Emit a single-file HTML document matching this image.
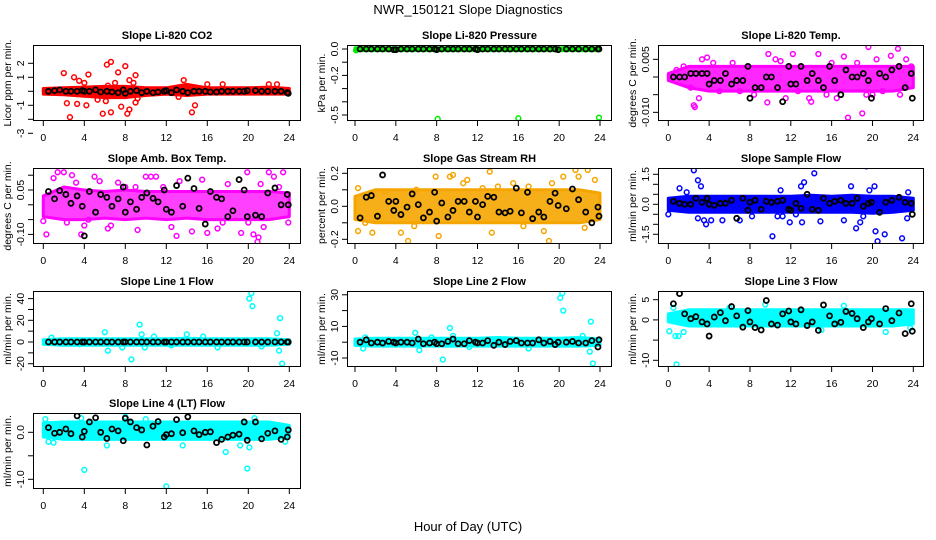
<!DOCTYPE html>
<html><head><meta charset="utf-8"><style>
html,body{margin:0;padding:0;background:#fff;}
svg{display:block;font-family:"Liberation Sans",Arial,sans-serif;}
</style></head><body>
<svg id="chart" width="936" height="540" viewBox="0 0 936 540" xmlns="http://www.w3.org/2000/svg">
<text x="468" y="14" text-anchor="middle" font-size="13">NWR_150121  Slope Diagnostics</text>
<text x="468" y="531" text-anchor="middle" font-size="13">Hour of Day (UTC)</text>
</svg>
<script>
// shared hours
const blackHours=[0.5,1.1,1.6,2.2,2.7,3.3,3.8,4.0,4.5,5.1,5.6,6.2,6.7,7.3,7.8,8.0,8.5,9.1,9.6,10.1,10.7,11.2,11.8,12.0,12.5,13.0,13.6,14.1,14.7,15.2,15.8,16.3,16.9,17.4,18.0,18.5,19.1,19.6,19.9,20.7,21.3,21.9,22.6,23.2,23.8,23.9];
const bandHours=[0,2,4,6,8,10,12,14,16,18,20,22,24];
const xTicks=[0,4,8,12,16,20,24];

// CO2
const co2Lo=[-0.2,-0.25,-0.35,-0.45,-0.45,-0.3,-0.2,-0.3,-0.2,-0.2,-0.2,-0.2,-0.2];
const co2Hi=[0.2,0.25,0.3,0.35,0.35,0.25,0.25,0.5,0.25,0.25,0.25,0.3,0.2];
const co2Out=[[2,1.3],[3,1],[3.5,0.75],[4.4,1.2],[4,0.6],[2.3,-0.85],[2.6,-1.85],[3.1,-3],[3.3,-0.9],[4.2,-1],[6.2,1.9],[6.6,2.1],[7.3,1.35],[8,1.8],[9,1.15],[8.4,0.8],[8.8,0.6],[5.8,-1.6],[6.6,-1.5],[7.6,-1.1],[8.2,-1.6],[8.4,-1.3],[9,-0.8],[9.2,-0.5],[6.3,0.4],[7,0.6],[14.5,-1.5],[14.8,-1],[13.7,0.8],[13.2,-0.4],[16,0.5],[17.5,0.5],[22,0.5],[22.8,0.5],[5.3,-0.6],[6.1,-0.7]];
const co2Black=[0,0.05,0.1,0,0,0,0.05,0,0,0.1,-0.05,0,-0.05,-0.1,0.1,-0.15,0,0.05,-0.1,0,-0.1,-0.05,0,0.05,-0.1,0.1,0,-0.1,0,0,0,-0.05,-0.05,0,0,0,0,0,0.05,0.05,0,0,0,0,-0.1,-0.15];
// Pressure
const prLo=[-0.012,-0.012,-0.012,-0.012,-0.012,-0.012,-0.012,-0.012,-0.012,-0.012,-0.012,-0.012,-0.012];
const prHi=[0.01,0.01,0.01,0.01,0.01,0.01,0.01,0.01,0.01,0.01,0.01,0.01,0.01];
const prOut=[[8.1,-0.53],[16,-0.525],[23.9,-0.52],[0.1,-0.01],[1,0.01],[11,0.01]];
const prBlack=[0,0,0,0,0,0,-0.005,-0.005,0,0,0,0,0,0,0,-0.005,0,0,0,0,0,0,0,-0.005,0,0,0,0,0,0,0,0,0,0,0,0,0,0,-0.005,0,0,0,0,0,0,0];
// Li-820 temp
const tLo=[-0.001,-0.003,-0.004,-0.004,-0.004,-0.004,-0.004,-0.004,-0.004,-0.004,-0.004,-0.004,-0.003];
const tHi=[0.001,0.003,0.003,0.003,0.003,0.003,0.003,0.003,0.003,0.003,0.003,0.003,0.003];
const tOut=[[3.3,0.005],[3.8,0.0055],[9.8,0.0065],[12.2,0.0065],[14.7,0.0065],[17.2,0.0058],[19.6,0.0085],[22.5,0.008],[21.8,0.006],[23.3,0.005],[2.5,-0.008],[3.0,-0.006],[9.7,-0.0072],[11.5,-0.006],[14,-0.007],[17.6,-0.0115],[19,-0.0103],[16.5,-0.006],[19.4,-0.005],[13.8,-0.006],[20.4,0.005],[1.5,0.003],[5,-0.004],[7,-0.004],[11,0.0045],[15.5,-0.005],[18.5,0.004],[21,-0.004],[22.7,-0.005],[4.4,0.004],[6.3,0.004],[8.4,-0.005],[10.5,0.005],[12.7,-0.004],[16,0.004],[20,-0.005],[23.8,0.003],[0.8,0.002],[2.2,-0.003],[2.6,-0.0085]];
const tBlack=[0,0,0,0.001,0.001,0.001,0.001,-0.002,-0.001,-0.001,0.001,-0.002,-0.001,-0.001,0.003,-0.006,-0.003,-0.003,0,0,-0.003,-0.007,0.003,-0.002,-0.002,0.003,-0.001,0.001,-0.001,-0.003,0.003,-0.001,-0.005,0.002,0,0,0.001,-0.001,-0.006,0.001,0,0.002,0.003,-0.003,0.001,-0.006];
// Amb box temp
const abLo=[-0.04,-0.05,-0.05,-0.045,-0.05,-0.045,-0.05,-0.045,-0.05,-0.05,-0.05,-0.05,-0.04];
const abHi=[0.03,0.06,0.05,0.045,0.05,0.045,0.045,0.045,0.045,0.045,0.045,0.045,0.04];
const abOut=[[1,0.09],[1.4,0.11],[2,0.11],[2.8,0.1],[3.2,0.075],[5,0.095],[0.3,-0.1],[0,-0.055],[3.7,-0.1],[4,-0.07],[5.5,0.08],[6.3,-0.08],[6.6,-0.07],[7.3,0.075],[9.2,-0.085],[10,0.095],[10.5,0.095],[11,0.095],[12.5,-0.075],[13,-0.105],[13.3,0.08],[14.5,-0.09],[16,-0.095],[17,-0.08],[18,0.07],[19.3,-0.095],[19.9,0.11],[20,-0.06],[20.5,-0.1],[21,-0.11],[21.2,0.07],[21.5,-0.075],[22,0.11],[22.5,0.095],[23.4,0.11],[23.9,-0.06],[20.9,-0.125],[23,0.06],[15.5,0.085],[9,0.06],[2.3,-0.06],[4.4,-0.05],[8,0.06],[17.5,-0.06],[11.7,0.06]];
const abBlack=[0.045,0.02,0.048,0.035,0.005,0.03,-0.005,-0.105,0.045,-0.025,0.035,0.025,-0.005,0.02,0.06,-0.025,0.01,-0.015,0.025,0.04,0.022,0.01,0.05,-0.015,-0.025,0.065,-0.005,0.09,0.055,-0.012,-0.065,0.045,0.025,0.02,-0.04,-0.02,0.085,0.05,-0.04,-0.035,-0.04,0.04,0.057,0,0.035,0];
// RH
const rhLo=[-0.08,-0.1,-0.1,-0.1,-0.1,-0.1,-0.1,-0.1,-0.1,-0.1,-0.1,-0.1,-0.08];
const rhHi=[0.06,0.1,0.1,0.1,0.1,0.1,0.1,0.1,0.1,0.1,0.1,0.1,0.08];
const rhOut=[[0.3,0.11],[0.3,-0.15],[1.7,-0.16],[3,0.09],[4.5,-0.16],[5.2,-0.21],[5.8,-0.12],[7.9,0.18],[8.2,-0.18],[9.3,0.18],[9.6,0.19],[10.6,0.14],[11,0.16],[13.2,0.21],[13.4,-0.16],[15.5,0.14],[18.5,-0.15],[19,-0.21],[19.3,0.14],[20.4,0.18],[21.6,0.22],[21.9,0.18],[22.8,0.22],[23.5,0.16],[22.5,-0.13],[6,0.1],[14,0.12],[17,0.12],[1,-0.1],[12.5,0.11],[16.5,-0.12]];
const rhBlack=[-0.07,0.055,0.065,-0.06,0.19,0.03,-0.025,0.03,-0.05,-0.005,0.075,0.01,-0.07,-0.035,0.085,-0.09,0.02,-0.065,-0.025,0.03,0.03,-0.035,0.03,-0.065,0.01,0.06,0.055,-0.035,-0.04,-0.03,0.11,-0.04,0.085,-0.075,-0.035,-0.065,0.03,0.08,0.005,-0.015,0.105,0.04,-0.035,-0.1,-0.005,-0.06];
// Sample flow
const sfLo=[-0.3,-0.4,-0.4,-0.4,-0.4,-0.4,-0.4,-0.4,-0.4,-0.4,-0.45,-0.4,-0.3];
const sfHi=[0.3,0.4,0.4,0.4,0.4,0.4,0.4,0.45,0.4,0.45,0.4,0.4,0.3];
const sfOut=[[2.5,1.7],[2.9,1.2],[3.2,0.9],[0,-0.5],[2.9,-0.7],[3.5,-0.8],[3.7,-1.0],[4.2,-0.8],[5.3,-0.8],[7,-0.8],[8.2,-0.6],[10.2,-1.6],[10.7,-0.6],[11.2,-0.6],[11,0.7],[11.9,-0.9],[12.5,-0.5],[13,0.9],[13.3,1.1],[13.1,-0.9],[14.3,1.55],[14.9,-0.85],[17.2,-0.8],[17.9,0.9],[18.4,-1.2],[18.8,-0.9],[19.1,-0.6],[19.4,1.9],[19.7,0.7],[20.2,0.9],[20.3,-1.35],[20.5,-1.85],[21.2,-1.5],[22.9,-1.7],[23.5,0.6],[23.4,-0.7],[1.1,0.8],[1.8,0.6]];
const sfBlack=[0.15,0.05,0,0,0.3,0.1,0.3,0,-0.05,0.05,0.05,0.2,-0.7,0.3,-0.3,0.1,0.2,-0.25,0.15,0.1,0.15,0.2,-0.25,-0.3,0.05,-0.2,0.5,-0.25,-0.3,0.3,0.05,0.15,0.2,0.05,0.05,0.3,-0.1,0.05,0.1,-0.4,0.1,0.2,0.35,0.1,0.05,-0.5];
// Line 1
const l1Lo=[-2,-3,-3,-3,-3,-3,-3,-3,-3,-3,-3,-3,-2];
const l1Hi=[2,3,3,3,3,3,3,3.5,3,3,3,3,2];
const l1Out=[[6,9],[6.3,-8],[7.7,-5],[8.6,-16],[9.4,16],[9.6,7],[9.9,-5],[10.8,5],[14,7],[17,-5],[20.1,40],[20.3,45],[20.4,33],[22.8,8],[23.1,22],[23.3,-20],[23,-8],[21.3,-4],[0.8,4],[15.6,5],[12.5,-3],[3.5,-2]];
const l1Black=[0,0,0,0,0,0,0,0,0,0,0,0,0,0,0,0,0,0,0,0,0,0,0,0,0,0,0,0,0,0,0,0,0,0,0,0,0,0,0,0,0,0,0,0,0,0];
// Line 2
const l2Lo=[-2,-2.5,-2.5,-2.5,-2.5,-2.5,-2.5,-2.5,-2.5,-2.5,-2.5,-2.5,-2];
const l2Hi=[2,2.5,2.5,2.5,2.5,2.5,2.5,3,2.5,2.5,2.5,3,2];
const l2Out=[[5.9,6],[6.3,-5],[7.5,3],[8.6,-11],[9.3,9],[9.6,4],[20.1,28],[20.3,31],[20.4,20],[23.1,13],[23.3,-13.5],[23,-6],[0.8,-4],[1,3],[22.3,4],[11.2,-3],[17,-4]];
const l2Black=[0,1.5,-0.5,0,-0.5,0.5,0,-0.5,0,0,-0.5,2,-1,-0.5,0,-1,-1,0.5,2,-1,-1,1,0,-0.5,-0.5,1,-2,0,-1.5,0.5,1,-0.5,-0.5,-0.5,1.5,-0.5,0.5,-1.5,0,0,0.5,-0.5,-0.5,1,-3,1.5];
// Line 3
const l3Lo=[-0.5,-1.5,-1.5,-1.5,-1.5,-1.5,-1.5,-1.5,-1.5,-1.5,-1.5,-1.5,-1];
const l3Hi=[1.5,2.5,2.5,2.5,2.5,2.5,2.5,2.5,2.5,2.5,2.5,2.5,2.5];
const l3Out=[[0.1,-2.8],[0.7,-4],[1.0,-4],[0.8,-11],[1.5,-3],[9.5,3.8],[17.2,3.5],[15,-2.5],[21.3,-3],[23.7,-2],[0.5,3],[6,3]];
const l3Black=[4,6.5,1.5,0.3,0.8,-0.5,-1,-4,0.7,1.8,-0.2,3.3,1,-1.8,2.3,-0.5,-1.9,-2.5,4.8,-1,-1.3,1.5,2.2,-0.5,-1,2.5,-1.4,-0.5,-2.6,3.7,1,-1,-0.6,2.1,1.6,0.3,-1.9,-0.5,0.3,-1,2.8,-0.2,1.7,-3.4,4,-2.8];
// Line 4
const l4Lo=[-0.1,-0.15,-0.15,-0.15,-0.15,-0.15,-0.15,-0.15,-0.15,-0.15,-0.15,-0.15,-0.1];
const l4Hi=[0.2,0.22,0.22,0.22,0.22,0.22,0.22,0.22,0.22,0.22,0.22,0.22,0.15];
const l4Out=[[0.2,0.28],[0.5,-0.2],[1,-0.22],[4,-0.8],[6.2,-0.28],[8,0.33],[10,0.28],[12,-1.15],[13.6,-0.28],[17.8,-0.42],[19.2,-0.28],[19.9,-0.77],[20.1,-0.32],[20.6,0.3],[3.7,0.3],[23.6,-0.2]];
const l4Black=[0.1,-0.02,0,0.07,-0.03,0.35,-0.1,0.02,0.22,0.31,0,-0.13,0.07,0.03,-0.18,0.3,0.22,0.1,0.05,-0.27,0.13,0.23,-0.1,-0.05,-0.03,0.27,-0.01,0.33,0.03,-0.05,0,0.01,-0.22,-0.15,-0.1,-0.06,-0.04,0.22,-0.17,0.22,-0.14,-0.02,0.03,-0.15,-0.1,0.05];

const NS="http://www.w3.org/2000/svg";
const svg=document.getElementById('chart');
const cols=[{l:33,r:301,x0:43.3,x24:289.3},{l:347,r:612,x0:355,x24:600},{l:658,r:924,x0:668.3,x24:913.3}];
const rows=[45,168,291,413];
function mk(tag,attrs,parent){const e=document.createElementNS(NS,tag);for(const k in attrs)e.setAttribute(k,attrs[k]);(parent||svg).appendChild(e);return e;}

const panels=[
 {key:'co2',title:'Slope Li-820 CO2',ylab:'Licor ppm per min.',c:0,r:0,color:'#ff0000',y0:91.3,ppu:14,ticks:[2,1,0,-1,-2,-3],labels:['2','1','-1','-3'],lo:co2Lo,hi:co2Hi,out:co2Out,blk:co2Black},
 {key:'pressure',title:'Slope Li-820 Pressure',ylab:'kPa per min.',c:1,r:0,color:'#00ee00',y0:49,ppu:132,ticks:[0,-0.1,-0.2,-0.3,-0.4,-0.5],labels:['0.0','-0.2','-0.5'],lo:prLo,hi:prHi,out:prOut,blk:prBlack},
 {key:'li820-temp',title:'Slope Li-820 Temp.',ylab:'degrees C per min.',c:2,r:0,color:'#ff00ff',y0:77,ppu:3534,ticks:[0.005,0,-0.005,-0.01],labels:['0.005','-0.010'],lo:tLo,hi:tHi,out:tOut,blk:tBlack,op:0.85},
 {key:'amb-box-temp',title:'Slope Amb. Box Temp.',ylab:'degrees C per min.',c:0,r:1,color:'#ff00ff',y0:204.8,ppu:296,ticks:[0.1,0.05,0,-0.05,-0.1],labels:['0.05','-0.10'],lo:abLo,hi:abHi,out:abOut,blk:abBlack,op:0.75},
 {key:'gas-stream-rh',title:'Slope Gas Stream RH',ylab:'percent per min.',c:1,r:1,color:'#f5a500',y0:206.3,ppu:165,ticks:[0.2,0.1,0,-0.1,-0.2],labels:['0.2','0.0','-0.2'],lo:rhLo,hi:rhHi,out:rhOut,blk:rhBlack,op:0.9},
 {key:'sample-flow',title:'Slope Sample Flow',ylab:'ml/min per min.',c:2,r:1,color:'#0000ff',y0:204.3,ppu:20,ticks:[1.5,1,0.5,0,-0.5,-1,-1.5],labels:['1.5','0.0','-1.5'],lo:sfLo,hi:sfHi,out:sfOut,blk:sfBlack},
 {key:'line1-flow',title:'Slope Line 1 Flow',ylab:'ml/min per min.',c:0,r:2,color:'#00ffff',y0:342,ppu:1.085,ticks:[40,30,20,10,0,-10,-20],labels:['40','20','0','-20'],lo:l1Lo,hi:l1Hi,out:l1Out,blk:l1Black},
 {key:'line2-flow',title:'Slope Line 2 Flow',ylab:'ml/min per min.',c:1,r:2,color:'#00ffff',y0:342.2,ppu:1.58,ticks:[30,20,10,0,-10],labels:['30','10','-10'],lo:l2Lo,hi:l2Hi,out:l2Out,blk:l2Black},
 {key:'line3-flow',title:'Slope Line 3 Flow',ylab:'ml/min per min.',c:2,r:2,color:'#00ffff',y0:319.9,ppu:4.04,ticks:[5,0,-5,-10],labels:['5','0','-10'],lo:l3Lo,hi:l3Hi,out:l3Out,blk:l3Black},
 {key:'line4-flow',title:'Slope Line 4 (LT) Flow',ylab:'ml/min per min.',c:0,r:3,color:'#00ffff',y0:432.3,ppu:47,ticks:[0,-0.5,-1],labels:['0.0','-1.0'],lo:l4Lo,hi:l4Hi,out:l4Out,blk:l4Black}
];

panels.forEach(p=>{
 const col=cols[p.c], top=rows[p.r], bot=top+76;
 const g=mk('g',{});
 
 
 const xs=h=>col.x0+(col.x24-col.x0)*h/24;
 const ys=v=>p.y0-v*p.ppu;
 const clipId='clip-'+p.key;
 const cp=mk('clipPath',{id:clipId},g);
 mk('rect',{x:col.l,y:top,width:col.r-col.l,height:bot-top},cp);
 const plot=mk('g',{'clip-path':'url(#'+clipId+')'},g);
 let pts=[];
 bandHours.forEach((h,i)=>pts.push(xs(h).toFixed(1)+','+ys(p.hi[i]).toFixed(1)));
 for(let i=bandHours.length-1;i>=0;i--)pts.push(xs(bandHours[i]).toFixed(1)+','+ys(p.lo[i]).toFixed(1));
 const band=mk('polygon',{points:pts.join(' '),fill:p.color,'fill-opacity':p.op||1,stroke:p.color,'stroke-width':3,'stroke-linejoin':'round'},plot);
 
 
 p.out.forEach(d=>{
  const c=mk('circle',{cx:xs(d[0]),cy:ys(d[1]),r:2.4,fill:'none',stroke:p.color,'stroke-width':1.5},plot);
  
  
 });
 p.blk.forEach((v,i)=>{
  const c=mk('circle',{cx:xs(blackHours[i]),cy:ys(v),r:2.5,fill:'none',stroke:'#000','stroke-width':1.8},plot);
  
  
 });
 const box=mk('rect',{x:col.l+0.5,y:top+0.5,width:col.r-col.l-1,height:bot-top-1,fill:'none',stroke:'#000','stroke-width':1},g);
 
 
 xTicks.forEach(t=>{
  mk('line',{x1:xs(t),x2:xs(t),y1:bot,y2:bot+5,stroke:'#000'},g);
  const tx=mk('text',{x:xs(t),y:bot+20,'text-anchor':'middle','font-size':10.5},g);
  tx.textContent=t;
  
  
 });
 p.ticks.forEach(t=>mk('line',{x1:col.l-5,x2:col.l,y1:ys(t),y2:ys(t),stroke:'#000'},g));
 p.labels.forEach(l=>{
  const y=ys(parseFloat(l)), x=col.l-9;
  const tx=mk('text',{x:x,y:y,'text-anchor':'middle','font-size':10.5,transform:'rotate(-90 '+x+' '+y+')'},g);
  tx.textContent=l;
  
  
 });
 const yx=col.l-22, yy=(top+bot)/2;
 const yl=mk('text',{x:yx,y:yy,'text-anchor':'middle','font-size':10.5,transform:'rotate(-90 '+yx+' '+yy+')'},g);
 yl.textContent=p.ylab;
 
 
 const ti=mk('text',{x:(col.l+col.r)/2,y:top-6,'text-anchor':'middle','font-size':11,'font-weight':'bold'},g);
 ti.textContent=p.title;
 
 
});
</script>
</body></html>
